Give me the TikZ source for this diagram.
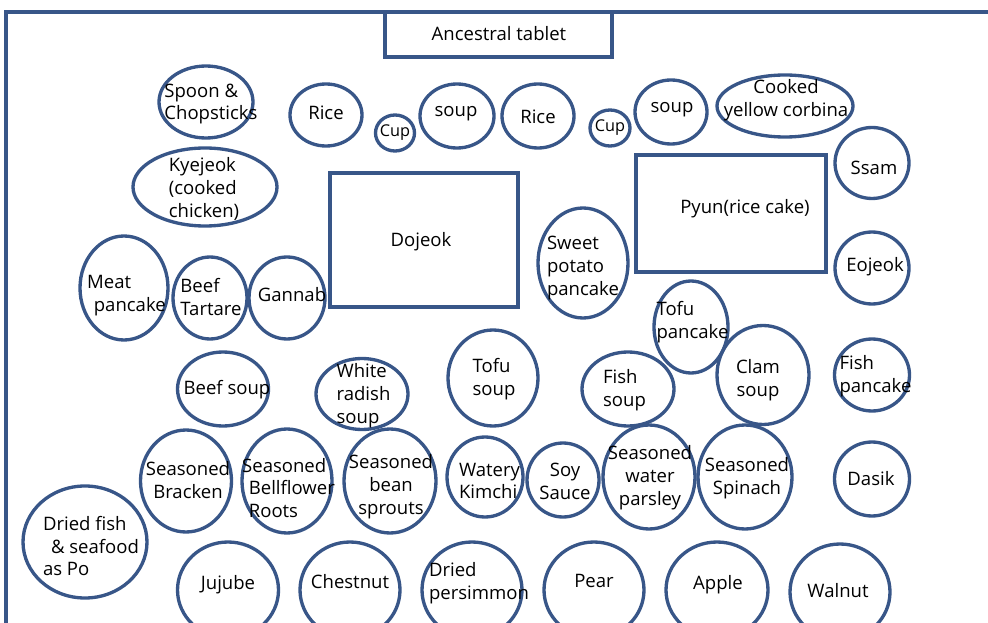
\documentclass[tikz,border=0pt]{standalone}
\usepackage{fontspec}
\setmainfont{Open Sans}
\usetikzlibrary{shapes.geometric}
\definecolor{plateblue}{RGB}{56,86,136}
\tikzset{
dish/.style={
  ellipse,
  draw=plateblue,
  line width=2.5pt,
  inner sep=0pt
},
tray/.style={
  rectangle,
  draw=plateblue,
  line width=2.5pt,
  inner sep=0pt
},
dishtext/.style={
  inner sep=0pt,
  font=\fontsize{13.9}{17.2}\selectfont
},
cuptext/.style={
  inner sep=0pt,
  font=\fontsize{12.2}{14}\selectfont
}
}

\begin{document}
\begin{tikzpicture}[x=0.75pt,y=-0.75pt]
\useasboundingbox (0,0) rectangle (988,623);
% the table edge
\draw[plateblue,line width=2.5pt] (6,623) -- (6,12) -- (988,12);
% the trays
\node[tray,minimum width=227*0.75pt,minimum height=45*0.75pt] (tablet) at (498.5,34.5) {};
\node[dishtext] (tablet-t) at (499,34) {Ancestral tablet};
\node[tray,minimum width=188*0.75pt,minimum height=134*0.75pt] (dojeok) at (424,240) {};
\node[dishtext] (dojeok-t) at (421,242) {Dojeok};
\node[tray,minimum width=190*0.75pt,minimum height=117*0.75pt] (pyun) at (731,213.5) {};
\node[dishtext] (pyun-t) at (745,209) {Pyun(rice cake)};
% the cups
\node[dish,minimum width=39*0.75pt,minimum height=36*0.75pt] (cupa) at (395,133) {};
\node[cuptext] (cupa-t) at (395,133) {Cup};
\node[dish,minimum width=40*0.75pt,minimum height=36*0.75pt] (cupb) at (610,128) {};
\node[cuptext] (cupb-t) at (610,128) {Cup};
% the dishes
\foreach \nm/\x/\y/\rx/\ry/\tx/\ty/\aln/\txt in {
  spoon/206/102/47/36/211/104/left/{Spoon \&\\Chopsticks},
  ricea/326/115/36/31/326/113/center/{Rice},
  soupa/457/116/37/32/456/114/center/{soup},
  riceb/538/116/36/32/538/117/center/{Rice},
  soupb/671/112/36/32/672/110/center/{soup},
  corbina/785/106/68/31/786/100/center/{Cooked\\yellow corbina},
  ssam/872/163/37/35.5/874/168/center/{Ssam},
  eojeok/872/268/37/36/875/267/center/{Eojeok},
  kyejeok/205/187/72/39/204/189/left/{Kyejeok\\(cooked\\chicken)},
  meat/124/288/44/52/126.5/296/left/{Meat\\\hspace{5pt}pancake},
  tartare/210/298/37/41/211/297/left/{Beef\\Tartare},
  gannab/287/298/38/41/292/295/center/{Gannab},
  sweetpotato/583/263/45/55/583/268/left/{Sweet\\potato\\pancake},
  tofupancake/691/327/37/46/692.5/322/left/{Tofu\\pancake},
  beefsoup/223/389/45.5/37/227/390/center/{Beef soup},
  radish/362/394/46/35.5/363.5/396/left/{White\\radish\\soup},
  tofusoup/493/378/45/48/494/379/left/{Tofu\\soup},
  fishsoup/628/389/46/37/624.5/390/left/{Fish\\soup},
  clamsoup/763/375/46/49.5/758/380/center/{Clam\\soup},
  fishpancake/872/375/37.5/36/875.5/376/left/{Fish\\pancake},
  bracken/186/481/45.5/51/188/480/center/{Seasoned\\Bracken},
  bellflower/287/481/45/52/288.5/488/left/{Seasoned\\\hspace{5pt}Bellflower\\\hspace{5pt}Roots},
  sprouts/390/481/46/52/391/487/center/{Seasoned\\bean\\sprouts},
  kimchi/485/477/38/40/489.5/481/left/{Watery\\Kimchi},
  soy/563/480/36/37/565/481/center/{Soy\\Sauce},
  parsley/649/477/46/52/650/478/center/{Seasoned\\water\\parsley},
  spinach/745/477/47/52/747/478/center/{Seasoned\\Spinach},
  dasik/872/479/37.5/37/871/479/center/{Dasik},
  driedfish/85/542/62/56/91/546/left/{Dried fish\\\hspace{6pt}\& seafood\\as Po},
  jujube/228/590/50.5/48/228/585/center/{Jujube},
  chestnut/350/590/50/48/350/582/center/{Chestnut},
  persimmon/472/590/50/48/479/583/left/{Dried\\persimmon},
  pear/594/590/50/48/594/581/center/{Pear},
  apple/717/590/51/48/718/585/center/{Apple},
  walnut/840/592/50/48/838/591/center/{Walnut}}
{
  \node[dish,minimum width=2*\rx*0.75pt,minimum height=2*\ry*0.75pt] (\nm) at (\x,\y) {};
  \node[dishtext,align=\aln] (\nm-t) at (\tx,\ty) {\txt};
}
\end{tikzpicture}
\end{document}
